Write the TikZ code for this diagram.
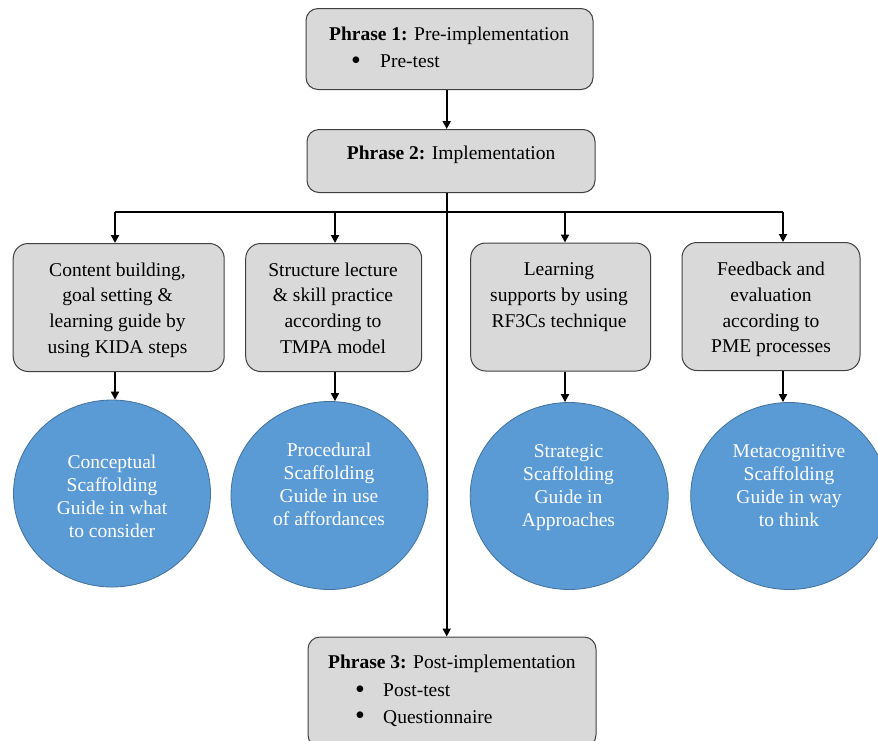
\documentclass[tikz,border=0pt]{standalone}
\usepackage{fontspec}
\setmainfont{Liberation Serif}
\usetikzlibrary{shapes.geometric,arrows.meta}
\definecolor{boxfill}{HTML}{D9D9D9}
\definecolor{boxline}{HTML}{404040}
\definecolor{circfill}{HTML}{5B9BD5}
\definecolor{circline}{HTML}{41719C}
\newcommand{\bigbul}{\raisebox{-1.5pt}{\fontsize{28}{28}\selectfont\textbullet}}
\begin{document}
\begin{tikzpicture}[x=1pt,y=-1pt,
  box/.style={draw=boxline, line width=1pt, fill=boxfill, rounded corners=15pt, inner sep=0pt},
  btext/.style={anchor=north, align=center, inner sep=0pt, font=\fontsize{19.5}{25.7}\selectfont},
  ptext/.style={anchor=base west, inner sep=0pt, font=\fontsize{19.5}{25.7}\selectfont},
  circ/.style={ellipse, draw=circline, line width=0.8pt, fill=circfill, inner sep=0pt},
  ctext/.style={anchor=north, align=center, inner sep=0pt, text=white, font=\fontsize{19.5}{23}\selectfont},
  ln/.style={line width=1.9pt},
  arr/.style={line width=1.9pt, -{Triangle[length=8pt,width=8pt]}}]
\useasboundingbox (0,0) rectangle (878,740);

% phase boxes
\node[box, rounded corners=12pt, minimum width=287pt, minimum height=81pt] (p1) at (449.5,49) {};
\node[ptext] (p1t) at (329,40) {\textbf{Phrase 1:} Pre-implementation};
\node[ptext] (p1b) at (351,67.7) {\makebox[29pt][l]{\bigbul}Pre-test};

\node[box, rounded corners=12pt, minimum width=288pt, minimum height=63pt] (p2) at (451,161) {};
\node[ptext] (p2t) at (346.7,159.3) {\textbf{Phrase 2:} Implementation};

\node[box, rounded corners=12pt, minimum width=288pt, minimum height=110pt] (p3) at (452,692) {};
\node[ptext] (p3t) at (328,668.3) {\textbf{Phrase 3:} Post-implementation};
\node[ptext] (p3b) at (355,696.7) {\makebox[28pt][l]{\bigbul}Post-test};
\node[ptext] (p3c) at (355,723.3) {\makebox[28pt][l]{\bigbul}Questionnaire};

% activity boxes
\node[box, minimum width=211pt, minimum height=128pt] (A) at (118.7,307.5) {};
\node[btext] (At) at (117.5,262.5) {Content building,\\goal setting \&\\learning guide by\\using KIDA steps};
\node[box, minimum width=176pt, minimum height=128pt] (B) at (333.7,307.5) {};
\node[btext] (Bt) at (333,262.5) {Structure lecture\\\& skill practice\\according to\\TMPA model};
\node[box, minimum width=180pt, minimum height=128pt] (C) at (560.7,307) {};
\node[btext] (Ct) at (559,262.5) {Learning\\supports by using\\RF3Cs technique};
\node[box, minimum width=178pt, minimum height=128pt] (D) at (771,306.5) {};
\node[btext] (Dt) at (771,262) {Feedback and\\evaluation\\according to\\PME processes};

% scaffolding circles
\node[circ, minimum width=197pt, minimum height=187pt] (E1) at (112,493.5) {};
\node[ctext] (E1t) at (112,454.5) {Conceptual\\Scaffolding\\Guide in what\\to consider};
\node[circ, minimum width=197pt, minimum height=188pt] (E2) at (329.5,495.5) {};
\node[ctext] (E2t) at (329,442.5) {Procedural\\Scaffolding\\Guide in use\\of affordances};
\node[circ, minimum width=198pt, minimum height=187pt] (E3) at (569.2,496) {};
\node[ctext] (E3t) at (568.5,444.5) {Strategic\\Scaffolding\\Guide in\\Approaches};
\node[circ, minimum width=197pt, minimum height=187pt] (E4) at (789.2,496) {};
\node[ctext] (E4t) at (789,444.5) {Metacognitive\\Scaffolding\\Guide in way\\to think};

% connectors
\coordinate (j) at (446.7,212);
\coordinate (kA) at (115,212);
\coordinate (kB) at (335,212);
\coordinate (kC) at (565,212);
\coordinate (kD) at (783,212);

\draw[arr] (p1.south -| j) -- (p2.north -| j);
\draw[ln] (p2.south -| j) -- (j);
\draw[arr] (j) -- (p3.north -| j);
\draw[ln] (kA) -- (kD);
\draw[arr] (kA) -- (A.north -| kA);
\draw[arr] (kB) -- (B.north -| kB);
\draw[arr] (kC) -- (C.north -| kC);
\draw[arr] (kD) -- (D.north -| kD);
\draw[arr] (A.south -| kA) -- (E1.north -| kA);
\draw[arr] (B.south -| kB) -- (E2.north -| kB);
\draw[arr] (C.south -| kC) -- (E3.north -| kC);
\draw[arr] (D.south -| kD) -- (E4.north -| kD);
\end{tikzpicture}
\end{document}
